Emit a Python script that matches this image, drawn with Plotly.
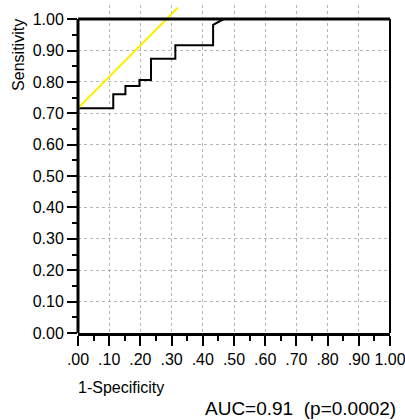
import plotly.graph_objects as go

# ROC curve (1-specificity, sensitivity)
fpr = [0.0, 0.113, 0.113, 0.152, 0.152, 0.197, 0.197, 0.234, 0.234, 0.312, 0.312, 0.433, 0.433, 0.467, 1.0]
tpr = [0.716, 0.716, 0.761, 0.761, 0.787, 0.787, 0.806, 0.806, 0.874, 0.874, 0.917, 0.917, 0.982, 1.0, 1.0]

# Yellow reference (tangent) line
tan_x = [0.0, 0.32]
tan_y = [0.716, 1.036]

tick_vals = [0.0, 0.1, 0.2, 0.3, 0.4, 0.5, 0.6, 0.7, 0.8, 0.9, 1.0]
x_tick_text = [".00", ".10", ".20", ".30", ".40", ".50", ".60", ".70", ".80", ".90", "1.00"]
y_tick_text = ["0.00", "0.10", "0.20", "0.30", "0.40", "0.50", "0.60", "0.70", "0.80", "0.90", "1.00"]

x_title = "1-Specificity"
y_title = "Sensitivity"
auc_text = "AUC=0.91  (p=0.0002)"

FONT = "Liberation Sans, Arial, sans-serif"

fig = go.Figure()
fig.add_trace(go.Scatter(x=fpr, y=tpr, mode="lines",
                         line=dict(color="black", width=2), showlegend=False))
fig.add_trace(go.Scatter(x=tan_x, y=tan_y, mode="lines",
                         line=dict(color="#ffee00", width=2), showlegend=False))

axis_common = dict(
    ticks="outside", ticklen=10, tickwidth=2, tickcolor="black",
    showgrid=True, gridcolor="#b4b4b4", griddash="dot", gridwidth=1,
    zeroline=False, automargin=False, ticklabeloverflow="allow",
    tickfont=dict(family=FONT, size=16, color="black"),
    minor=dict(dtick=0.05, ticks="outside", ticklen=5, tickwidth=2,
               tickcolor="black", showgrid=False),
)

fig.update_xaxes(range=[0, 1], tickmode="array", tickvals=tick_vals, ticktext=x_tick_text,
                 showline=True, linewidth=3, linecolor="black", **axis_common)
fig.update_yaxes(range=[0, 1.045], tickmode="array", tickvals=tick_vals, ticktext=y_tick_text,
                 showline=False, **axis_common)

# frame lines (left, top, right) ending at 1.00
fig.add_shape(type="line", xref="paper", yref="y", x0=0, x1=0, y0=0, y1=1.0,
              line=dict(color="black", width=3))
fig.add_shape(type="line", xref="paper", yref="y", x0=0, x1=1, y0=1.0, y1=1.0,
              line=dict(color="black", width=3))
fig.add_shape(type="line", xref="paper", yref="y", x0=1, x1=1, y0=0, y1=1.0,
              line=dict(color="black", width=2))

fig.add_annotation(text=y_title, xref="paper", yref="paper", x=-0.189, y=0.848,
                   textangle=-90, showarrow=False, xanchor="center", yanchor="middle",
                   font=dict(family=FONT, size=16, color="black"))
fig.add_annotation(text=x_title, xref="paper", yref="paper", x=-0.006, y=-0.165,
                   showarrow=False, xanchor="left", yanchor="middle",
                   font=dict(family=FONT, size=16, color="black"))
fig.add_annotation(text=auc_text, xref="paper", yref="paper", x=1.026, y=-0.229,
                   showarrow=False, xanchor="right", yanchor="middle",
                   font=dict(family=FONT, size=19, color="black"))

fig.update_layout(
    width=405, height=420,
    margin=dict(l=78, r=15, t=5, b=87),
    plot_bgcolor="white", paper_bgcolor="white",
    font=dict(family=FONT, color="black"),
)

fig.write_html("out.html", config={"displayModeBar": False},
               post_script="document.body.style.margin='0';document.body.style.overflow='hidden';")
